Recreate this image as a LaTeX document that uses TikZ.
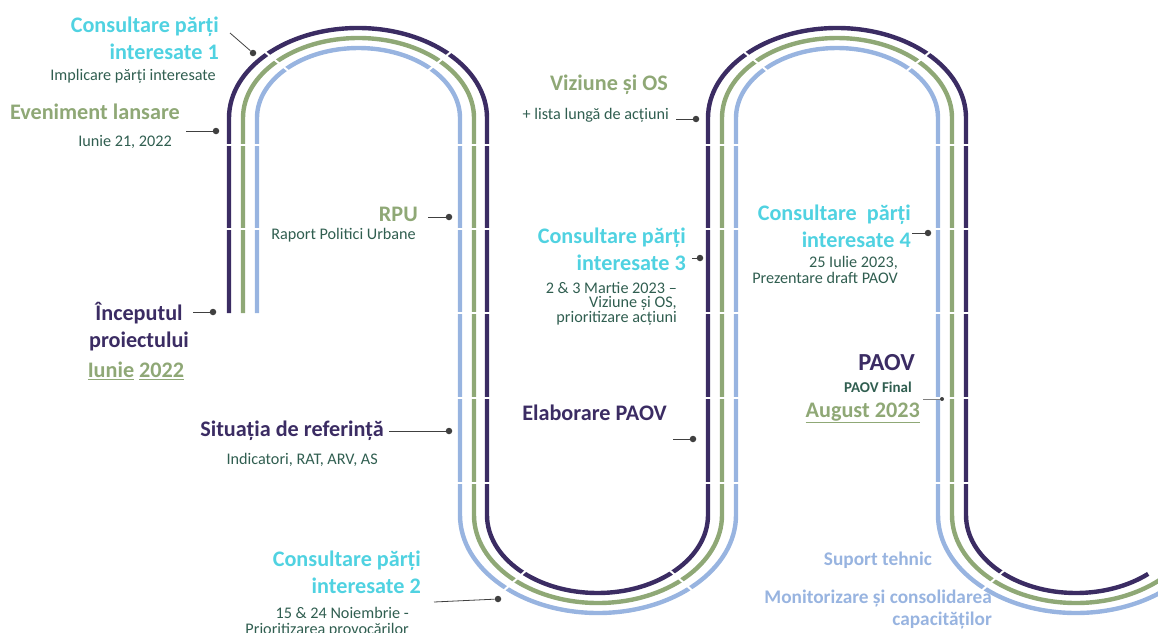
\documentclass[tikz,border=0pt]{standalone}
\usepackage{fontspec}
\setmainfont{Carlito}
\usetikzlibrary{calc}
\begin{document}
\begin{tikzpicture}[x=1pt,y=1pt,yscale=-1]
        % Colors
        \definecolor{trackpurple}{RGB}{59,44,99}
        \definecolor{trackgreen}{RGB}{143,168,118}
        \definecolor{trackblue}{RGB}{152,180,224}
        \definecolor{consultcolor}{RGB}{80,210,225}
        \definecolor{notecolor}{RGB}{48,94,80}
        \definecolor{dotcolor}{RGB}{64,64,64}
        % Styles
        \tikzstyle{track}=[line width=4.4pt]
        \tikzstyle{cut}=[white,line width=2pt]
        \tikzstyle{milestone}=[circle,fill=dotcolor,inner sep=0pt,minimum size=6.5pt]
        \tikzstyle{leader}=[dotcolor,line width=0.8pt]
        \tikzstyle{heading}=[font=\fontsize{22.2}{27}\selectfont\bfseries,align=right,inner sep=0pt]
        \tikzstyle{note}=[font=\fontsize{16.2}{16.5}\selectfont,text=notecolor,align=right,inner sep=0pt]
        \tikzstyle{support}=[font=\fontsize{19.3}{22}\selectfont\bfseries,text=trackblue,align=right,inner sep=0pt]
        \useasboundingbox (0,0) rectangle (1158,632);
        %The tracks
        \begin{scope}
            \clip (0,0) rectangle (1158,632);
            \draw[track,trackpurple] (229,313) -- (229,118)
                arc[start angle=180,end angle=360,x radius=129pt,y radius=90pt] -- (487,515)
                arc[start angle=180,end angle=0,x radius=110.5pt,y radius=78pt] -- (708,118)
                arc[start angle=180,end angle=360,x radius=129pt,y radius=90pt] -- (966,515)
                arc[start angle=180,end angle=49,x radius=110pt,y radius=78pt];
            \draw[track,trackgreen] (243,313) -- (243,118)
                arc[start angle=180,end angle=360,x radius=115.5pt,y radius=80pt] -- (474,515)
                arc[start angle=180,end angle=0,x radius=124pt,y radius=88pt] -- (722,118)
                arc[start angle=180,end angle=360,x radius=115pt,y radius=80pt] -- (952,515)
                arc[start angle=180,end angle=30,x radius=124pt,y radius=88pt];
            \draw[track,trackblue] (257,313) -- (257,118)
                arc[start angle=180,end angle=360,x radius=101.5pt,y radius=70pt] -- (460,515)
                arc[start angle=180,end angle=0,x radius=138pt,y radius=98pt] -- (736,118)
                arc[start angle=180,end angle=360,x radius=101pt,y radius=70pt] -- (938,515)
                arc[start angle=180,end angle=20,x radius=138pt,y radius=98pt];
            % segment cuts
            \foreach \y in {145,229}
                \draw[cut] (224,\y) -- (262,\y);
            \foreach \x in {455,703,933}
                \foreach \y in {145,229,313,398,483}
                    \draw[cut] (\x,\y) -- (\x+38,\y);
            \foreach \cx/\a in {358/225,358/315,837/225,837/315}
                \draw[cut] ($(\cx,118)+(\a:136pt and 97pt)$) -- ($(\cx,118)+(\a:94pt and 63pt)$);
            \foreach \cx/\a in {598/132,598/48,1076/132}
                \draw[cut] ($(\cx,515)+(\a:103pt and 71pt)$) -- ($(\cx,515)+(\a:145pt and 105pt)$);
        \end{scope}
        %Milestones
        \node[milestone] (m1) at (253,53) {};
        \node[milestone] (m2) at (216,131) {};
        \node[milestone] (m3) at (213,312) {};
        \node[milestone] (m4) at (449,217) {};
        \node[milestone] (m5) at (449,431) {};
        \node[milestone] (m6) at (498,599) {};
        \node[milestone] (m7) at (696,119) {};
        \node[milestone] (m8) at (700,258) {};
        \node[milestone] (m9) at (693,439) {};
        \node[milestone] (m10) at (928,233) {};
        \node[milestone,minimum size=4pt] (m11) at (942,399) {};
        \coordinate (l1) at (230,33);
        \coordinate (l2) at (186,131);
        \coordinate (l3) at (193,312);
        \coordinate (l4) at (428,217);
        \coordinate (l5) at (389,431);
        \coordinate (l6) at (434,602);
        \coordinate (l7) at (676,119);
        \coordinate (l8) at (692,258);
        \coordinate (l9) at (673,439);
        \coordinate (l10) at (912,233);
        \coordinate (l11) at (923,399);
        \foreach \i in {1,...,10}
            \draw[leader] (l\i) -- (m\i);
        \draw[leader,gray] (l11) -- (m11);
        %Labels
        \node[heading,text=consultcolor,anchor=east] (cons1) at (219,38.5) {Consultare părți\\interesate 1};
        \node[note,anchor=east] (cons1note) at (216,76) {Implicare părți interesate};
        \node[heading,text=trackgreen,anchor=east] (launch) at (180,112) {Eveniment lansare};
        \node[note,anchor=east] (launchdate) at (172,142) {Iunie 21, 2022};
        \node[heading,text=trackpurple,align=center] (start) at (139,326.5) {Începutul\\proiectului};
        \node[heading,text=trackgreen] (startdate) at (136,371) {\underline{Iunie} \underline{2022}};
        \node[heading,text=trackgreen,anchor=east] (rpu) at (418,214) {RPU};
        \node[note,anchor=east] (rpunote) at (416,235) {Raport Politici Urbane};
        \node[heading,text=trackpurple,anchor=east] (refsit) at (384,431) {Situația de referință};
        \node[note,anchor=east] (refsitnote) at (378,460) {Indicatori, RAT, ARV, AS};
        \node[heading,text=consultcolor,anchor=east] (cons2) at (421,572.5) {Consultare părți\\interesate 2};
        \node[note,anchor=east] (cons2note) at (409,622) {15 \& 24 Noiembrie -\\Prioritizarea provocărilor};
        \node[heading,text=trackgreen,anchor=east] (vision) at (668,85) {Viziune și OS};
        \node[note,anchor=east] (visionnote) at (669,115) {+ lista lungă de acțiuni};
        \node[heading,text=consultcolor,anchor=east] (cons3) at (686,249.5) {Consultare părți\\interesate 3};
        \node[note,anchor=east,font=\fontsize{16.2}{14.5}\selectfont] (cons3note) at (677,303.5) {2 \& 3 Martie 2023 --\\Viziune și OS,\\prioritizare acțiuni};
        \node[heading,text=trackpurple,anchor=east] (draft) at (667,413) {Elaborare PAOV};
        \node[heading,text=consultcolor,anchor=east] (cons4) at (911,226.5) {Consultare \ părți\\interesate 4};
        \node[note,anchor=east] (cons4note) at (898,270) {25 Iulie 2023,\\Prezentare draft PAOV};
        \node[heading,text=trackpurple,anchor=east,font=\fontsize{24.5}{27}\selectfont\bfseries] (paov) at (915,363) {PAOV};
        \node[note,anchor=east,font=\fontsize{15}{16}\selectfont\bfseries] (paovnote) at (912,387) {PAOV Final};
        \node[heading,text=trackgreen,anchor=east] (final) at (920,413) {\underline{August 2023}};
        \node[support,anchor=east] (tech) at (932,560) {Suport tehnic};
        \node[support,anchor=east] (monitor) at (992,609) {Monitorizare și consolidarea\\capacităților};
\end{tikzpicture}
\end{document}
